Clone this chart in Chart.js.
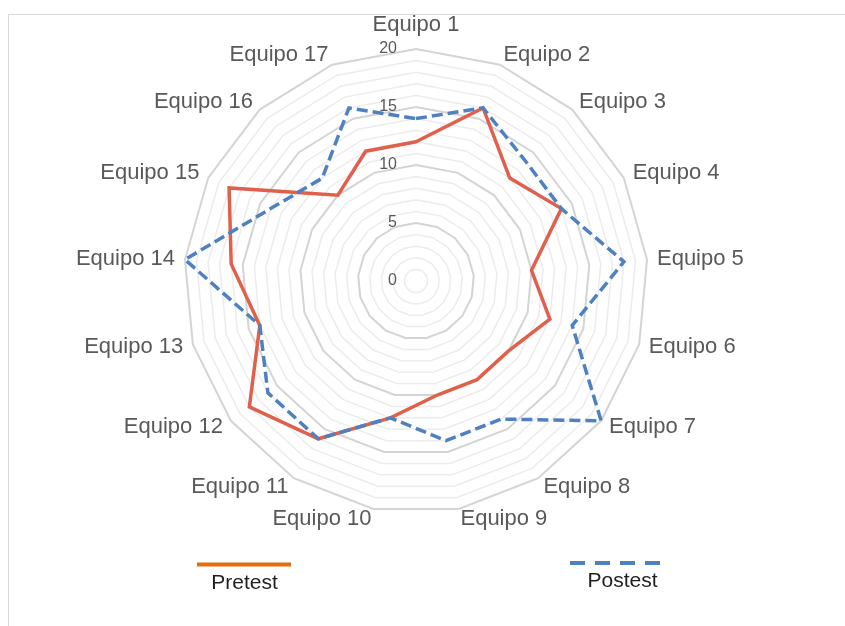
<!DOCTYPE html>
<html>
<head>
<meta charset="utf-8">
<script src="https://cdn.jsdelivr.net/npm/chart.js@4/dist/chart.umd.min.js"></script>
<style>
  html, body { margin: 0; padding: 0; background: #ffffff; }
  #wrap { position: relative; width: 845px; height: 626px; overflow: hidden; }
  #frame { position: absolute; left: 8px; top: 14px; width: 900px; height: 700px; border: 1px solid #d9d9d9; box-sizing: border-box; }
  canvas { position: absolute; left: 0; top: 0; }
</style>
</head>
<body>
<div id="wrap">
  <div id="frame"></div>
  <canvas id="chart" width="845" height="626"></canvas>
</div>
<script>
// Teams around the radar, clockwise from the top
const categories = [
  'Equipo 1', 'Equipo 2', 'Equipo 3', 'Equipo 4', 'Equipo 5', 'Equipo 6',
  'Equipo 7', 'Equipo 8', 'Equipo 9', 'Equipo 10', 'Equipo 11', 'Equipo 12',
  'Equipo 13', 'Equipo 14', 'Equipo 15', 'Equipo 16', 'Equipo 17'
];
const pretest = [12, 16, 12, 14, 10, 12, 10, 10, 10, 12, 16, 18, 14, 16, 18, 10, 12];
const postest = [14, 16, 14, 14, 18, 14, 20, 14, 14, 12, 16, 16, 14, 20, 14, 12, 16];
const tickLabels = [0, 5, 10, 15, 20];

const PRE_COLOR = '#E0604C';
const POST_COLOR = '#4F81C0';

// Category names placed just outside each spoke
const pointLabelPlugin = {
  id: 'pointLabelText',
  afterDatasetsDraw(chart) {
    const s = chart.scales.r;
    const ctx = chart.ctx;
    ctx.save();
    ctx.font = '22px "Liberation Sans", Arial, sans-serif';
    ctx.fillStyle = '#595959';
    ctx.textBaseline = 'middle';
    s.getLabels().forEach((label, i) => {
      const v = s.getPointPosition(i, s.drawingArea);
      const dx = v.x - s.xCenter;
      if (Math.abs(dx) < 1) {
        const p = s.getPointPosition(i, s.drawingArea + 24);
        ctx.textAlign = 'center';
        ctx.fillText(label, p.x, p.y);
      } else {
        const p = s.getPointPosition(i, s.drawingArea + 10);
        ctx.textAlign = dx > 0 ? 'left' : 'right';
        ctx.fillText(label, p.x, p.y);
      }
    });
    ctx.restore();
  }
};

// Value labels to the left of the top spoke
const tickLabelPlugin = {
  id: 'tickLabelText',
  afterDatasetsDraw(chart) {
    const s = chart.scales.r;
    const ctx = chart.ctx;
    ctx.save();
    ctx.font = '16px "Liberation Sans", Arial, sans-serif';
    ctx.fillStyle = '#595959';
    ctx.textAlign = 'right';
    ctx.textBaseline = 'middle';
    tickLabels.forEach(v => {
      ctx.fillText(String(v), s.xCenter - 19, s.yCenter - s.getDistanceFromCenterForValue(v));
    });
    ctx.restore();
  }
};

// Legend: line sample above each series name
const legendPlugin = {
  id: 'sampleLegend',
  afterDraw(chart) {
    const ctx = chart.ctx;
    const items = [
      { label: chart.data.datasets[1].label, color: '#E46C0A', dash: [], x0: 197, x1: 291, ly: 564.5, tx: 244.5, ty: 583 },
      { label: chart.data.datasets[0].label, color: '#4F81BD', dash: [15, 10], x0: 570, x1: 662, ly: 563, tx: 622.5, ty: 581 }
    ];
    ctx.save();
    items.forEach(it => {
      ctx.beginPath();
      ctx.setLineDash(it.dash);
      ctx.strokeStyle = it.color;
      ctx.lineWidth = 4;
      ctx.moveTo(it.x0, it.ly);
      ctx.lineTo(it.x1, it.ly);
      ctx.stroke();
      ctx.setLineDash([]);
      ctx.font = '21px "Liberation Sans", Arial, sans-serif';
      ctx.fillStyle = '#1f1f1f';
      ctx.textAlign = 'center';
      ctx.textBaseline = 'middle';
      ctx.fillText(it.label, it.tx, it.ty);
    });
    ctx.restore();
  }
};

new Chart(document.getElementById('chart'), {
  type: 'radar',
  data: {
    labels: categories,
    datasets: [
      {
        label: 'Postest',
        data: postest,
        borderColor: POST_COLOR,
        borderWidth: 3.5,
        borderDash: [11, 5],
        fill: false,
        pointRadius: 0,
        tension: 0,
        order: 0
      },
      {
        label: 'Pretest',
        data: pretest,
        borderColor: PRE_COLOR,
        borderWidth: 3.5,
        fill: false,
        pointRadius: 0,
        tension: 0,
        order: 1
      }
    ]
  },
  options: {
    responsive: false,
    animation: false,
    layout: { padding: { left: 184, right: 197, top: 49, bottom: 113 } },
    plugins: { legend: { display: false }, tooltip: { enabled: false } },
    scales: {
      r: {
        min: 0,
        max: 20,
        ticks: { stepSize: 1, display: false },
        pointLabels: { display: false },
        angleLines: { display: false },
        grid: {
          color: c => (c.tick && c.tick.value % 5 === 0) ? '#d4d4d4' : '#ececec',
          lineWidth: c => (c.tick && c.tick.value % 5 === 0) ? 2 : 1.5
        }
      }
    }
  },
  plugins: [pointLabelPlugin, tickLabelPlugin, legendPlugin]
});
</script>
</body>
</html>
